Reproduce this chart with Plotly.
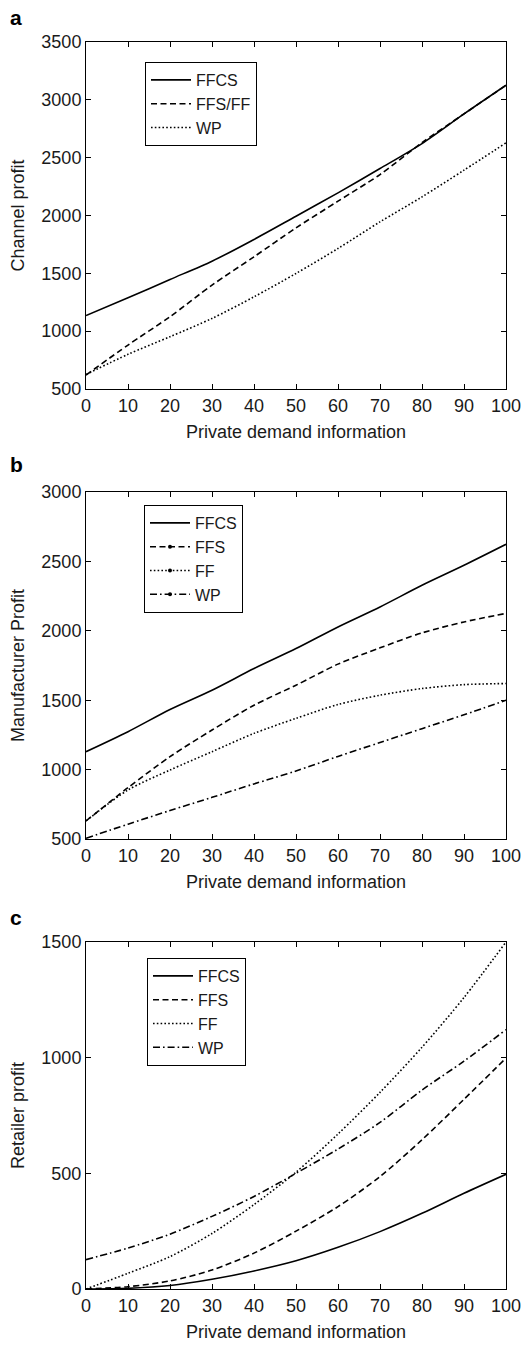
import plotly.graph_objects as go

# ---------------- data ----------------
x = [0, 10, 20, 30, 40, 50, 60, 70, 80, 90, 100]

# (a) Channel profit
a_ffcs = [1135, 1288, 1447, 1605, 1793, 1994, 2196, 2406, 2622, 2878, 3126]
a_ffsff = [621, 880, 1125, 1398, 1643, 1893, 2124, 2354, 2630, 2878, 3126]
a_wp = [625, 800, 952, 1110, 1297, 1499, 1715, 1945, 2161, 2392, 2628]

# (b) Manufacturer profit
b_ffcs = [1129, 1273, 1433, 1572, 1728, 1872, 2028, 2172, 2328, 2472, 2623]
b_ffs = [630, 870, 1093, 1285, 1464, 1608, 1760, 1877, 1985, 2064, 2125]
b_ff = [630, 853, 997, 1129, 1261, 1369, 1469, 1536, 1584, 1612, 1620]
b_wp = [505, 607, 705, 800, 897, 990, 1095, 1195, 1295, 1395, 1500]

# (c) Retailer profit
c_ffcs = [0, 3, 15, 42, 78, 122, 180, 248, 327, 414, 496]
c_ffs = [0, 10, 35, 82, 155, 250, 356, 486, 645, 820, 998]
c_ff = [0, 68, 140, 240, 365, 505, 670, 850, 1045, 1260, 1500]
c_wp = [127, 177, 237, 314, 400, 500, 605, 720, 860, 985, 1121]

x_ticks = [0, 10, 20, 30, 40, 50, 60, 70, 80, 90, 100]
a_yticks = [500, 1000, 1500, 2000, 2500, 3000, 3500]
b_yticks = [500, 1000, 1500, 2000, 2500, 3000]
c_yticks = [0, 500, 1000, 1500]

x_title = "Private demand information"

# ---------------- layout helpers ----------------
W, H = 521, 1348
FONT = "Liberation Sans, Arial, Helvetica, sans-serif"
INK = "#1a1a1a"

def fx(p):
    return p / W

def fy(p):
    return 1 - p / H

DASH = {
    "solid": "solid",
    "dash": "6px,3.5px",
    "dot": "1.6px,2.2px",
    "dashdot": "7px,3px,1.6px,3px",
}
LW = 1.6

fig = go.Figure()

def add_line(xa, ya, yv, name, dash, legend, showlegend=True):
    fig.add_trace(go.Scatter(
        x=x, y=yv, name=name, mode="lines",
        line=dict(color="black", width=LW, dash=DASH[dash], shape="spline", smoothing=0.8),
        xaxis=xa, yaxis=ya, legend=legend, showlegend=showlegend,
        hoverinfo="skip",
    ))

def add_legend_dot(xa, ya, name, dash, legend):
    fig.add_trace(go.Scatter(
        x=[None], y=[None], name=name, mode="lines+markers",
        line=dict(color="black", width=LW, dash=DASH[dash]),
        marker=dict(color="black", size=4),
        xaxis=xa, yaxis=ya, legend=legend, showlegend=True,
    ))

# panel a
add_line("x", "y", a_ffcs, "FFCS", "solid", "legend")
add_line("x", "y", a_ffsff, "FFS/FF", "dash", "legend")
add_line("x", "y", a_wp, "WP", "dot", "legend")

# panel b
add_line("x2", "y2", b_ffcs, "FFCS", "solid", "legend2")
add_line("x2", "y2", b_ffs, "FFS", "dash", "legend2", showlegend=False)
add_legend_dot("x2", "y2", "FFS", "dash", "legend2")
add_line("x2", "y2", b_ff, "FF", "dot", "legend2", showlegend=False)
add_legend_dot("x2", "y2", "FF", "dot", "legend2")
add_line("x2", "y2", b_wp, "WP", "dashdot", "legend2", showlegend=False)
add_legend_dot("x2", "y2", "WP", "dashdot", "legend2")

# panel c
add_line("x3", "y3", c_ffcs, "FFCS", "solid", "legend3")
add_line("x3", "y3", c_ffs, "FFS", "dash", "legend3")
add_line("x3", "y3", c_ff, "FF", "dot", "legend3")
add_line("x3", "y3", c_wp, "WP", "dashdot", "legend3")

x_dom = [fx(86), fx(506)]
panels = [
    # (suffix, top px, bottom px, y range, y ticks, y title)
    ("", 42, 389, [500, 3500], a_yticks, "Channel profit"),
    ("2", 492, 839, [500, 3000], b_yticks, "Manufacturer Profit"),
    ("3", 942, 1289, [0, 1500], c_yticks, "Retailer profit"),
]

axis_common = dict(
    showline=True, linecolor="black", linewidth=1, mirror="ticks",
    ticks="inside", ticklen=5, tickcolor="black", tickwidth=1,
    showgrid=False, zeroline=False, automargin=False,
    ticklabeloverflow="allow",
    tickfont=dict(family=FONT, size=18, color=INK),
)

layout = dict(
    width=W, height=H,
    margin=dict(l=0, r=0, t=0, b=0),
    paper_bgcolor="white", plot_bgcolor="white",
    template="none",
    font=dict(family=FONT, size=18, color=INK),
    showlegend=True,
)

for suf, top, bot, yr, yt, ytitle in panels:
    xa = "xaxis" + suf
    ya = "yaxis" + suf
    layout[xa] = dict(
        domain=x_dom, range=[0, 100], tickvals=x_ticks,
        anchor="y" + suf,
        title=dict(text=x_title, font=dict(family=FONT, size=18, color=INK), standoff=10),
        **axis_common,
    )
    layout[ya] = dict(
        domain=[fy(bot), fy(top)], range=yr, tickvals=yt,
        anchor="x" + suf,
        title=dict(text=ytitle, font=dict(family=FONT, size=18, color=INK), standoff=12),
        **axis_common,
    )

legend_common = dict(
    bgcolor="white", bordercolor="black", borderwidth=1,
    font=dict(family=FONT, size=16, color=INK),
    xanchor="left", yanchor="top", itemwidth=40,
    tracegroupgap=0, traceorder="normal",
)
layout["legend"] = dict(x=fx(145), y=fy(62), **legend_common)
layout["legend2"] = dict(x=fx(144), y=fy(505), **legend_common)
layout["legend3"] = dict(x=fx(147), y=fy(958), **legend_common)

fig.update_layout(**layout)

for label, ypx in [("a", 18), ("b", 464), ("c", 917)]:
    fig.add_annotation(
        text="<b>%s</b>" % label, xref="paper", yref="paper",
        x=fx(8), y=fy(ypx), xanchor="left", yanchor="middle",
        showarrow=False, font=dict(family=FONT, size=21, color="black"),
    )

fig.write_html("out.html")
